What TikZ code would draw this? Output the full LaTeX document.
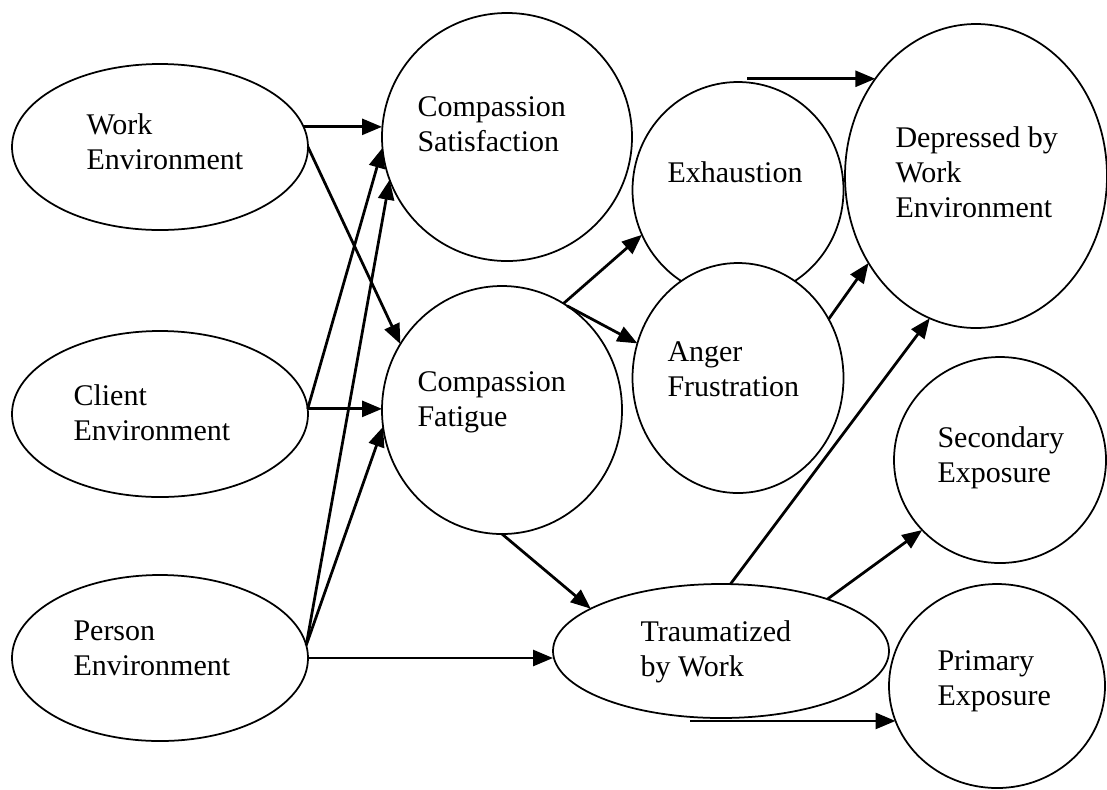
\documentclass[tikz,border=0pt]{standalone}
\usepackage{fontspec}
\setmainfont{Liberation Serif}
\usepackage{tikz}
\usetikzlibrary{
    arrows.meta,
    shapes,
    calc,
    positioning
}

\begin{document}
\begin{tikzpicture}[x=0.4pt, y=-0.4pt,
        state/.style={ellipse, draw, fill=white, line width=0.7pt, inner sep=0pt, outer sep=0pt},
        lbl/.style={anchor=north west, inner sep=0pt, align=left, font=\fontsize{12}{14}\selectfont},
        arr/.style={-{Triangle[length=8pt, width=6.4pt]}, line width=1.1pt}]
    \useasboundingbox (0, 0) rectangle (1107, 789);

    \node[state, minimum width=118.4pt, minimum height=66.4pt] (work) at (160, 147) {};
    \node[state, minimum width=118.4pt, minimum height=66.4pt] (client) at (160, 414) {};
    \node[state, minimum width=118.4pt, minimum height=66.4pt] (person) at (160, 658) {};
    \node[state, minimum width=100pt, minimum height=99.2pt] (cs) at (507, 137) {};
    \node[state, minimum width=96pt, minimum height=99.2pt] (cf) at (502, 410) {};
    \node[state, minimum width=84.4pt, minimum height=86.4pt] (exh) at (738, 190) {};
    \node[state, minimum width=84.4pt, minimum height=92pt] (anger) at (738, 378) {};
    \node[state, minimum width=104.8pt, minimum height=121.6pt] (dep) at (976, 176) {};
    \node[state, minimum width=84.8pt, minimum height=82.4pt] (sec) at (1000, 460) {};
    \node[state, minimum width=86.4pt, minimum height=81.6pt] (prim) at (997, 686) {};
    \node[state, minimum width=134.4pt, minimum height=53.6pt] (trauma) at (721, 651) {};

    \node[lbl] (work-txt) at (86, 113) {Work\\Environment};
    \node[lbl] (client-txt) at (73, 384) {Client\\Environment};
    \node[lbl] (person-txt) at (73, 620) {Person\\Environment};
    \node[lbl] (cs-txt) at (417, 96) {Compassion\\Satisfaction};
    \node[lbl] (cf-txt) at (417, 371) {Compassion\\Fatigue};
    \node[lbl] (exh-txt) at (667, 161) {Exhaustion};
    \node[lbl] (anger-txt) at (667, 341) {Anger\\Frustration};
    \node[lbl] (dep-txt) at (895, 126) {Depressed by\\Work\\Environment};
    \node[lbl] (sec-txt) at (937, 426) {Secondary\\Exposure};
    \node[lbl] (prim-txt) at (937, 650) {Primary\\Exposure};
    \node[lbl] (trauma-txt) at (640, 620) {Traumatized\\by Work};

    \draw[arr] (work.8) -- (work.8 -| cs.west);
    \draw[arr] (work.east) -- (cf.147);
    \draw[arr] (client.2) -- (cs.185);
    \draw[arr] (client.2) -- (client.2 -| cf.west);
    \draw[arr] (person.5) -- (cs.200);
    \draw[arr] (person.5) -- (cf.188);
    \draw[arr] (person.east) -- (person.east -| trauma.west);
    \draw[arr] (cf.60) -- (exh.205);
    \draw[arr] (cf.58) -- (anger.161);
    \draw[arr] (cf.south) -- (trauma.162);
    \draw[arr] (exh.85 |- dep.136) -- (dep.136);
    \draw[arr] (anger.33) -- (dep.219);
    \draw[arr] (trauma.82) -- (dep.252);
    \draw[arr] (trauma.26) -- (sec.222);
    \draw[arr] (trauma.245 |- prim.199) -- (prim.199);
\end{tikzpicture}
\end{document}
